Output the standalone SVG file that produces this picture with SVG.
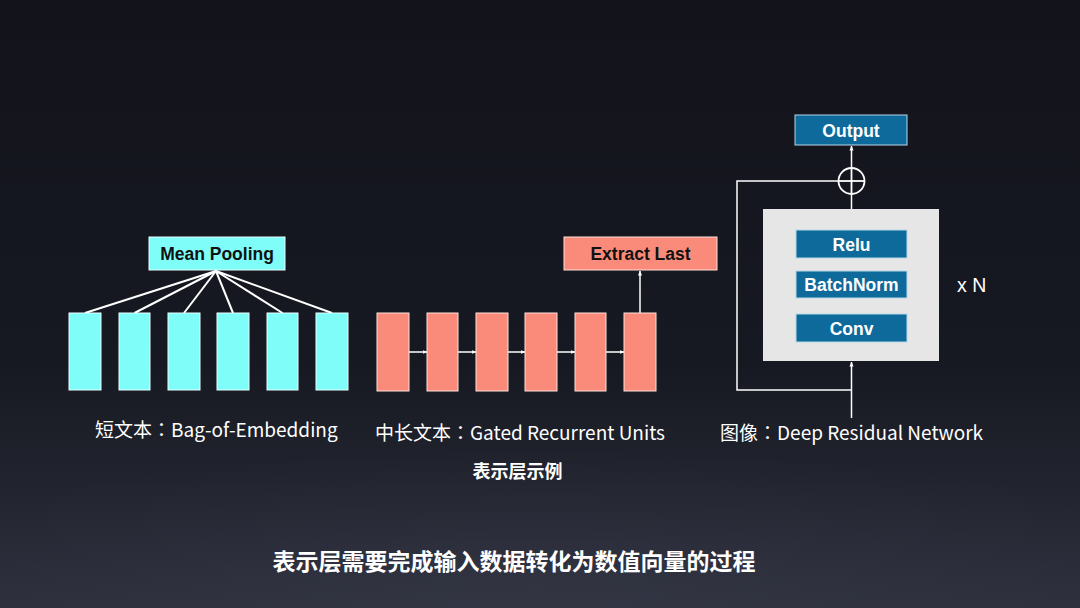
<svg xmlns="http://www.w3.org/2000/svg" width="1080" height="608" viewBox="0 0 1080 608">
<defs>
<linearGradient id="bg" x1="0" y1="0" x2="0" y2="1">
<stop offset="0" stop-color="#12131b"/>
<stop offset="0.6" stop-color="#171922"/>
<stop offset="1" stop-color="#2c2e3b"/>
</linearGradient>
<radialGradient id="glow" cx="0.5" cy="1" r="0.7">
<stop offset="0" stop-color="#3a3d4c" stop-opacity="0.5"/>
<stop offset="1" stop-color="#3a3d4c" stop-opacity="0"/>
</radialGradient>
<marker id="ah" viewBox="0 0 10 10" refX="9" refY="5" markerWidth="5" markerHeight="5" orient="auto" markerUnits="userSpaceOnUse">
<path d="M0,1 L10,5 L0,9 z" fill="#ffffff"/>
</marker>
</defs>
<style>
.cyan{fill:#7ffdf8;stroke:#e8ffff;stroke-width:1}
.salmon{fill:#fa8b7a;stroke:#ffe0da;stroke-width:1}
.blue{fill:#0d6a9b;stroke:#b8d8ea;stroke-width:1}
.gray{fill:#e6e6e6}
.lbl{font-family:"Liberation Sans",Arial,sans-serif;font-weight:bold;font-size:17.5px;text-anchor:middle}
.dark{fill:#111111}
.white{fill:#ffffff}
.cap{font-family:"Noto Sans CJK SC","Noto Sans",sans-serif;fill:#ffffff}
.colon{font-family:"Noto Sans CJK TC","Noto Sans CJK SC",sans-serif}
.wire{stroke:#ffffff;stroke-width:2;fill:none}
.thin{stroke:#ffffff;stroke-width:1.5;fill:none}
</style>
<rect width="1080" height="608" fill="url(#bg)"/>
<rect y="380" width="1080" height="228" fill="url(#glow)"/>

<g id="connectors">
<line class="wire" x1="216" y1="271" x2="85" y2="313"/>
<line class="wire" x1="216" y1="271" x2="134.5" y2="313"/>
<line class="wire" x1="216" y1="271" x2="184" y2="313"/>
<line class="wire" x1="216" y1="271" x2="233" y2="313"/>
<line class="wire" x1="216" y1="271" x2="282.5" y2="313"/>
<line class="wire" x1="216" y1="271" x2="332" y2="313"/>
<line class="thin" x1="409" y1="352" x2="427" y2="352" marker-end="url(#ah)"/>
<line class="thin" x1="458" y1="352" x2="476" y2="352" marker-end="url(#ah)"/>
<line class="thin" x1="508" y1="352" x2="525" y2="352" marker-end="url(#ah)"/>
<line class="thin" x1="557" y1="352" x2="575" y2="352" marker-end="url(#ah)"/>
<line class="thin" x1="606" y1="352" x2="624" y2="352" marker-end="url(#ah)"/>
<line class="thin" x1="640" y1="313" x2="640" y2="271" marker-end="url(#ah)"/>
<line class="thin" x1="851.5" y1="168" x2="851.5" y2="146" marker-end="url(#ah)"/>
<line class="thin" x1="851.5" y1="209" x2="851.5" y2="194"/>
<polyline class="thin" points="838.5,181 737,181 737,390 851.5,390"/>
<line class="thin" x1="851.5" y1="418" x2="851.5" y2="362" marker-end="url(#ah)"/>
</g>

<g id="mean-pooling">
<rect class="cyan" x="149" y="237" width="136" height="33"/>
<text class="lbl dark" x="217" y="260">Mean Pooling</text>
</g>
<g id="bag-of-embedding">
<rect class="cyan" x="69" y="313" width="32" height="77"/>
<rect class="cyan" x="119" y="313" width="31" height="77"/>
<rect class="cyan" x="168" y="313" width="32" height="77"/>
<rect class="cyan" x="217" y="313" width="32" height="77"/>
<rect class="cyan" x="267" y="313" width="31" height="77"/>
<rect class="cyan" x="316" y="313" width="32" height="77"/>
</g>

<g id="extract-last">
<rect class="salmon" x="564" y="237" width="153" height="33"/>
<text class="lbl dark" x="640.5" y="260">Extract Last</text>
</g>
<g id="gru">
<rect class="salmon" x="377" y="313" width="32" height="78"/>
<rect class="salmon" x="427" y="313" width="31" height="78"/>
<rect class="salmon" x="476" y="313" width="32" height="78"/>
<rect class="salmon" x="525" y="313" width="32" height="78"/>
<rect class="salmon" x="575" y="313" width="31" height="78"/>
<rect class="salmon" x="624" y="313" width="32" height="78"/>
</g>

<g id="output">
<rect class="blue" x="795" y="115" width="112" height="30"/>
<text class="lbl white" x="851" y="136.5">Output</text>
</g>
<g id="add">
<circle cx="851.5" cy="181" r="13" fill="none" stroke="#ffffff" stroke-width="1.8"/>
<line x1="838.5" y1="181" x2="864.5" y2="181" stroke="#ffffff" stroke-width="1.8"/>
<line x1="851.5" y1="168" x2="851.5" y2="194" stroke="#ffffff" stroke-width="1.8"/>
</g>
<g id="res-block">
<rect class="gray" x="763" y="209" width="176" height="152"/>
</g>
<g id="relu">
<rect class="blue" x="796" y="230" width="111" height="28"/>
<text class="lbl white" x="851.5" y="250.5">Relu</text>
</g>
<g id="batchnorm">
<rect class="blue" x="796" y="271" width="111" height="27"/>
<text class="lbl white" x="851.5" y="291">BatchNorm</text>
</g>
<g id="conv">
<rect class="blue" x="796" y="314" width="111" height="28"/>
<text class="lbl white" x="851.5" y="334.5">Conv</text>
</g>
<g id="xn">
<text x="957" y="292" font-family="Liberation Sans,Arial,sans-serif" font-size="19.5" fill="#ffffff">x N</text>
</g>

<g id="captions">
<text class="cap" x="95" y="437" font-size="19">短文本<tspan class="colon">：</tspan>Bag-of-Embedding</text>
<text class="cap" x="375" y="440" font-size="19">中长文本<tspan class="colon">：</tspan>Gated Recurrent Units</text>
<text class="cap" x="720" y="440" font-size="19">图像<tspan class="colon">：</tspan>Deep Residual Network</text>
<text class="cap" x="517.5" y="478" font-size="18" font-weight="bold" text-anchor="middle">表示层示例</text>
<text class="cap" x="514" y="570" font-size="23" font-weight="bold" text-anchor="middle">表示层需要完成输入数据转化为数值向量的过程</text>
</g>
</svg>
